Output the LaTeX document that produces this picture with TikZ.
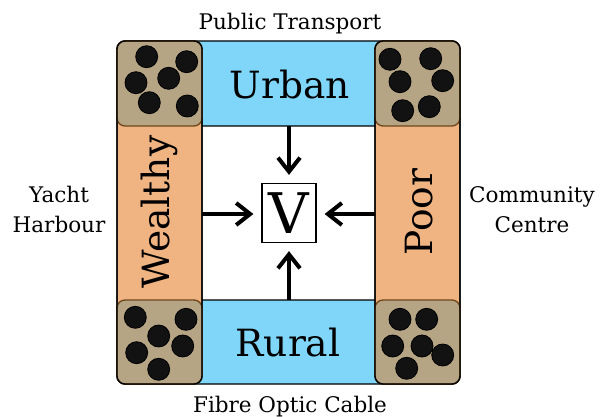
\documentclass[tikz,border=0pt]{standalone}
\usepackage{fontspec}
\setmainfont{DejaVu Serif}
\usetikzlibrary{arrows.meta}
\definecolor{bandblue}{RGB}{128,214,248}
\definecolor{bandorange}{RGB}{240,180,130}
\definecolor{cornertan}{RGB}{181,165,132}
\definecolor{tanedge}{RGB}{110,70,25}
\tikzset{
  band/.style={draw=black,line width=1.3pt,rounded corners=8pt},
  cornerbox/.style={fill=cornertan,draw=tanedge,line width=1.3pt,rounded corners=8pt},
  dot/.style={circle,fill=black!93,draw=black,line width=0.8pt,minimum size=22pt,inner sep=0pt},
  biglabel/.style={inner sep=0pt,font=\fontsize{37.5}{45}\selectfont},
  sidelabel/.style={inner sep=0pt,align=center,font=\fontsize{21.5}{30.5}\selectfont},
  arr/.style={line width=4pt,-{Straight Barb[length=14pt,width=22pt]},shorten >=8pt}
}
\begin{document}
\begin{tikzpicture}[x=1pt,y=-1pt]
\useasboundingbox[fill=white] (0,0) rectangle (600,417);
% bands
\path[band,fill=bandblue] (117,41) rectangle (460,126);
\path[band,fill=bandblue] (117,300) rectangle (460,384);
\path[band,fill=bandorange] (117,41) rectangle (202,384);
\path[band,fill=bandorange] (375,41) rectangle (460,384);
% corners
\path[cornerbox] (117,41) rectangle (202,126);
\path[cornerbox] (375,41) rectangle (460,126);
\path[cornerbox] (117,300) rectangle (202,384);
\path[cornerbox] (375,300) rectangle (460,384);
% outlines of columns again
\path[band] (117,41) rectangle (202,384);
\path[band] (375,41) rectangle (460,384);
% dots top-left
\foreach \p [count=\i] in {(146.7,56.7),(186.7,61.7),(136,82.7),(168.7,78.3),(149.3,102.7),(187.3,106)}
  \node[dot] (tl\i) at \p {};
% dots top-right
\foreach \p [count=\i] in {(390,59.3),(430.7,58.7),(400,81.7),(442.7,80.7),(402.7,110.7),(429.3,106.7)}
  \node[dot] (tr\i) at \p {};
% dots bottom-right
\foreach \p [count=\i] in {(400,319.3),(426.7,319.3),(392.7,346),(422,346),(442.7,355),(406.7,368.3)}
  \node[dot] (br\i) at \p {};
% dots bottom-left
\foreach \p [count=\i] in {(135.3,317.3),(186,319.3),(158.7,336),(136.7,352.7),(182.7,346),(158.7,369.3)}
  \node[dot] (bl\i) at \p {};
% labels
\node[biglabel] (urban) at (290,85) {Urban};
\node[biglabel] (rural) at (288,343) {Rural};
\node[biglabel,rotate=90] (wealthy) at (159,212) {Wealthy};
\node[biglabel,rotate=90] (poor) at (419,212) {Poor};
\node[sidelabel,anchor=base] (pt) at (290,30) {Public Transport};
\node[sidelabel,anchor=base] (foc) at (290,412) {Fibre Optic Cable};
\node[sidelabel,anchor=base] (yh) at (59,233) {Yacht\\Harbour};
\node[sidelabel,anchor=base] (cc) at (532,233) {Community\\Centre};
% center
\node[draw=black,line width=1.2pt,minimum width=54pt,minimum height=59pt,inner sep=0pt,
      font=\fontsize{56}{60}\selectfont] (v) at (289,213) {V};
\coordinate (ut) at (289,126);
\coordinate (rb) at (289,300);
\coordinate (wl) at (202,214);
\coordinate (pr) at (375,214);
\draw[arr] (ut) -- (ut |- v.north);
\draw[arr] (rb) -- (rb |- v.south);
\draw[arr] (wl) -- (wl -| v.west);
\draw[arr] (pr) -- (pr -| v.east);
\end{tikzpicture}
\end{document}
